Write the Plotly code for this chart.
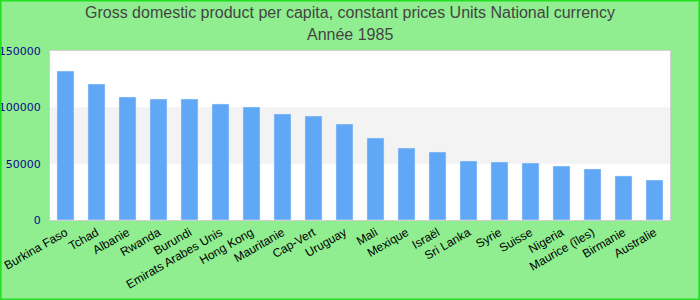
import plotly.graph_objects as go

countries = ["Burkina Faso", "Tchad", "Albanie", "Rwanda", "Burundi", "Emirats Arabes Unis",
             "Hong Kong", "Mauritanie", "Cap-Vert", "Uruguay", "Mali", "Mexique", "Israël",
             "Sri Lanka", "Syrie", "Suisse", "Nigeria", "Maurice (îles)", "Birmanie", "Australie"]
values = [132200, 120700, 109200, 107400, 107400, 103000, 100300, 94100, 92300, 85200,
          72800, 63900, 60400, 52400, 51500, 50600, 47900, 45300, 39100, 35500]
yticks = [0, 50000, 100000, 150000]
title_lines = ["Gross domestic product per capita, constant prices Units National currency",
               "Année 1985"]

L, R, T, B = 50, 30, 51, 80
W, H = 700, 300
pw, ph = W - L - R, H - T - B

fig = go.Figure(go.Bar(x=countries, y=values, marker_color="#60a8f5", width=0.55,
                       hoverinfo="x+y"))

fig.add_shape(type="rect", xref="paper", yref="y", x0=0, x1=1, y0=50000, y1=100000,
              fillcolor="#f3f3f3", line_width=0, layer="below")
fig.add_shape(type="rect", xref="paper", yref="paper",
              x0=-L / pw + 0.001, x1=1 + R / pw - 0.001, y0=-B / ph + 0.003, y1=1 + T / ph - 0.003,
              line=dict(color="#22e022", width=2), fillcolor="rgba(0,0,0,0)")

for i, (line, ypx) in enumerate(zip(title_lines, [13, 35])):
    fig.add_annotation(text=line, xref="paper", yref="paper",
                       x=(W / 2 - L) / pw, y=1 + (T - ypx) / ph,
                       xanchor="center", yanchor="middle", showarrow=False,
                       font=dict(family="Liberation Sans, Arial", size=16, color="#444444"))

fig.update_layout(
    width=W, height=H,
    margin=dict(l=L, r=R, t=T, b=B),
    paper_bgcolor="#90ee90", plot_bgcolor="white",
    showlegend=False,
    bargap=0.45,
)
fig.update_xaxes(tickangle=-30, tickfont=dict(family="Liberation Sans, Arial", size=12, color="black"),
                 showline=True, linecolor="#d0d0d0", linewidth=1, mirror=True, showgrid=False,
                 ticks="", automargin=False)
fig.update_yaxes(range=[0, 150000], tickvals=yticks, ticktext=[str(v) for v in yticks],
                 tickfont=dict(family="DejaVu Sans", size=11, color="#0a0a8a"),
                 showline=True, linecolor="#d0d0d0", linewidth=1, mirror=True, showgrid=False,
                 zeroline=False, ticks="", automargin=False, ticklabelstandoff=6)

fig.write_html("out.html")
